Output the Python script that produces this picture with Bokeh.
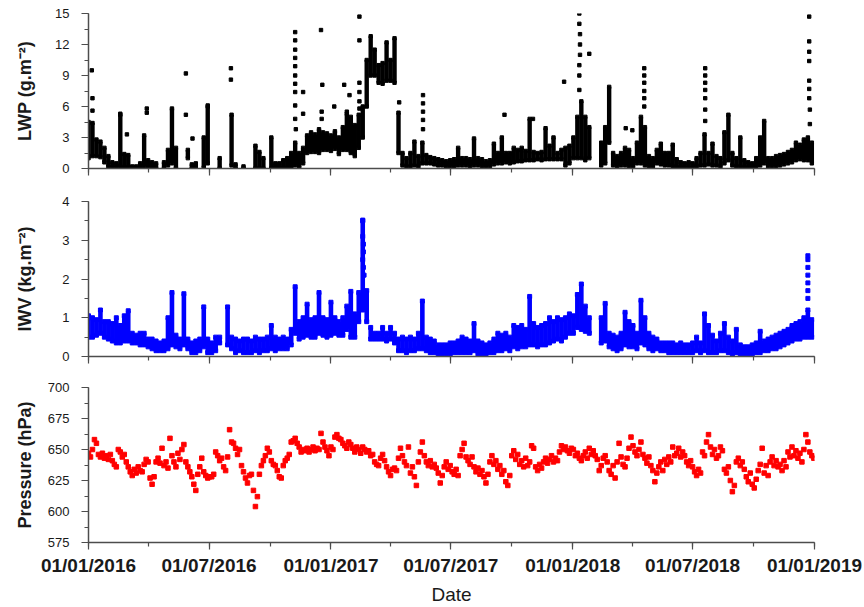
import numpy as np
import pandas as pd
from bokeh.plotting import figure
from bokeh.layouts import column
from bokeh.models import Range1d, FixedTicker, DatetimeTickFormatter
from bokeh.embed import file_html
from bokeh.resources import INLINE

nan = float("nan")
t0 = pd.Timestamp("2016-01-01")

# ---------------- data ----------------
# LWP / IWV: range of values in 6-day steps (day offsets from 01/01/2016)
band_day = list(range(0, 1093, 6))

lwp_lo = [1.0, 1.2, 1.2, 1.1, 0.6, 0.2, 0.1, 0.1, 0.2, 0.1,
          0.1, 0.0, 0.0, 0.0, 0.2, 0.1, 0.0, 0.0, nan, 0.0,
          0.3, 0.5, 0.0, nan, nan, 1.0, 0.0, 0.0, nan, 0.1,
          0.5, nan, nan, 0.0, nan, nan, 0.3, 0.0, nan, 0.0,
          nan, nan, 0.0, 0.0, 0.0, nan, 0.0, 0.1, 0.1, 0.0,
          0.0, 0.0, 0.3, 0.1, 0.5, 1.5, 1.6, 1.6, 1.5, 1.8,
          1.8, 1.7, 1.9, 1.4, 1.8, 1.8, 1.5, 1.2, 2.0, 3.0,
          6.0, 9.0, 9.0, 8.3, 8.2, 8.5, 8.5, 8.3, 1.5, 0.3,
          0.2, 0.2, 0.3, 0.2, 0.5, 0.5, 0.5, 0.4, 0.3, 0.3,
          0.2, 0.2, 0.2, 0.3, 0.3, 0.3, 0.2, 0.3, 0.3, 0.2,
          0.1, 0.2, 0.4, 0.5, 0.5, 0.6, 0.5, 0.6, 0.7, 0.7,
          0.8, 0.8, 0.8, 0.9, 0.8, 0.9, 0.9, 0.9, 0.9, 0.9,
          0.3, 0.5, 1.0, 1.0, 1.0, 0.8, 1.0, nan, nan, 0.3,
          0.5, 2.5, 0.3, 0.2, 0.3, 0.3, 0.2, 0.1, 0.5, 0.5,
          0.3, 0.2, 0.1, 0.5, 0.4, 0.3, 0.3, 0.2, 0.1, 0.1,
          0.1, 0.1, 0.1, 0.2, 0.3, 0.3, 0.4, 0.3, 0.3, 0.2,
          0.5, 0.8, 0.3, 0.2, 0.2, 0.1, 0.1, 0.1, 0.2, 0.3,
          0.5, 0.2, 0.2, 0.2, 0.3, 0.4, 0.5, 0.6, 0.8, 0.9,
          0.8, 0.8, 0.5]
lwp_hi = [4.5, 4.4, 2.8, 2.6, 2.0, 1.2, 0.6, 0.5, 5.2, 1.4,
          1.3, 0.2, 0.2, 0.5, 3.2, 0.8, 0.6, 0.5, nan, 0.6,
          1.8, 5.8, 2.0, nan, nan, 1.8, 0.4, 0.5, nan, 3.0,
          6.0, nan, nan, 1.0, nan, nan, 5.2, 0.4, nan, 0.2,
          nan, nan, 2.2, 1.6, 1.0, nan, 3.0, 0.5, 0.5, 0.8,
          1.0, 1.5, 2.5, 1.5, 2.0, 3.2, 3.5, 3.3, 3.8, 3.5,
          3.4, 3.2, 3.6, 3.0, 4.0, 5.3, 5.0, 4.2, 5.2, 6.0,
          10.5, 12.8, 11.5, 10.0, 10.2, 12.2, 10.5, 12.6, 5.4, 1.5,
          1.0, 1.5, 2.6, 1.2, 2.5, 1.3, 1.1, 1.0, 0.9, 0.8,
          0.7, 0.8, 0.9, 2.0, 1.0, 1.0, 0.9, 2.9, 1.0, 0.9,
          0.7, 0.8, 2.4, 1.5, 3.0, 1.5, 1.5, 2.0, 1.8, 2.0,
          1.7, 4.8, 1.6, 1.5, 1.6, 3.9, 2.2, 3.0, 1.5, 1.8,
          2.0, 2.2, 3.0, 5.0, 6.5, 5.0, 4.0, nan, nan, 2.5,
          4.0, 7.9, 1.5, 1.2, 1.5, 2.0, 1.8, 1.0, 2.5, 5.0,
          4.0, 1.2, 1.0, 1.8, 2.4, 1.5, 1.5, 2.3, 0.9, 0.6,
          0.5, 0.6, 0.5, 1.0, 1.5, 3.3, 1.5, 2.4, 1.2, 1.0,
          3.5, 5.2, 1.5, 1.0, 3.0, 0.8, 0.6, 0.5, 1.0, 3.0,
          4.6, 1.0, 1.0, 1.2, 1.3, 1.4, 1.6, 1.8, 2.5, 2.3,
          2.8, 3.0, 2.5]

lwp_spike_day = [5, 6, 6, 48, 58, 88, 88, 147, 147, 157, 180, 215, 215,
                 312, 312, 312, 312, 312, 312, 312, 312, 312, 312, 313,
                 324, 324, 351, 353, 352, 352, 371, 386, 394, 390,
                 409, 409, 409, 409, 409, 409, 469, 505, 505, 505, 505, 505,
                 628, 671, 718, 741, 741, 742, 742, 742, 741, 741, 741, 756,
                 811, 821, 839, 839, 839, 839, 839, 839,
                 931, 931, 931, 931, 931, 931, 931,
                 1088, 1088, 1088, 1088, 1088, 1088, 1088, 1089, 1089]
lwp_spike_val = [9.5, 6.8, 5.6, 5.3, 3.3, 5.8, 5.4, 9.2, 5.2, 2.9, 6.1, 9.7, 8.6,
                 13.2, 12.4, 11.5, 10.7, 9.9, 9.0, 8.2, 7.4, 6.1, 4.8, 3.8,
                 7.4, 5.3, 13.4, 8.1, 5.5, 4.8, 6.0, 8.1, 7.1, 5.5,
                 14.7, 12.4, 8.3, 7.4, 6.5, 5.8, 6.4, 7.1, 6.3, 5.5, 4.7, 3.8,
                 5.2, 4.8, 8.4, 15.0, 14.0, 13.0, 12.0, 11.0, 10.0, 9.0, 7.6, 11.1,
                 3.9, 3.7, 9.7, 9.0, 8.3, 7.5, 6.8, 6.0,
                 9.7, 9.0, 8.3, 7.6, 6.8, 5.7, 4.6,
                 14.7, 12.3, 11.3, 10.4, 8.5, 7.7, 6.8, 5.7, 4.3]

iwv_lo = [0.5, 0.5, 0.55, 0.6, 0.5, 0.45, 0.4, 0.35, 0.35, 0.4,
          0.4, 0.35, 0.35, 0.3, 0.3, 0.25, 0.2, 0.15, 0.15, 0.15,
          0.2, 0.3, 0.25, 0.2, 0.3, 0.2, 0.1, 0.1, 0.15, 0.25,
          0.1, 0.1, 0.15, 0.35, nan, 0.3, 0.2, 0.1, 0.15, 0.1,
          0.1, 0.1, 0.15, 0.1, 0.15, 0.15, 0.2, 0.15, 0.2, 0.2,
          0.2, 0.3, 0.6, 0.45, 0.5, 0.55, 0.5, 0.5, 0.6, 0.55,
          0.5, 0.55, 0.6, 0.55, 0.55, 0.7, 0.5, 0.5, 0.9, 1.2,
          0.9, 0.45, 0.45, 0.45, 0.45, 0.4, 0.45, 0.35, 0.15, 0.15,
          0.1, 0.15, 0.15, 0.2, 0.2, 0.15, 0.1, 0.1, 0.05, 0.05,
          0.05, 0.05, 0.1, 0.1, 0.1, 0.1, 0.1, 0.15, 0.05, 0.05,
          0.05, 0.1, 0.1, 0.15, 0.15, 0.2, 0.15, 0.25, 0.2, 0.25,
          0.25, 0.3, 0.3, 0.25, 0.3, 0.3, 0.35, 0.4, 0.45, 0.4,
          0.5, 0.6, 0.6, 0.75, 0.7, 0.65, 0.6, nan, nan, 0.35,
          0.4, 0.25, 0.2, 0.15, 0.2, 0.3, 0.25, 0.25, 0.2, 0.35,
          0.3, 0.2, 0.15, 0.2, 0.15, 0.15, 0.1, 0.1, 0.1, 0.1,
          0.1, 0.1, 0.1, 0.15, 0.1, 0.15, 0.1, 0.1, 0.1, 0.15,
          0.15, 0.1, 0.05, 0.1, 0.05, 0.05, 0.05, 0.05, 0.1, 0.1,
          0.15, 0.15, 0.2, 0.2, 0.25, 0.3, 0.35, 0.4, 0.45, 0.45,
          0.5, 0.5, 0.5]
iwv_hi = [1.05, 1.0, 0.95, 1.2, 0.9, 0.9, 0.85, 1.0, 0.8, 1.05,
          1.18, 0.6, 0.55, 0.6, 0.6, 0.45, 0.45, 0.4, 0.35, 0.4,
          1.0, 1.65, 0.55, 0.45, 1.62, 0.45, 0.35, 0.4, 0.45, 1.28,
          0.45, 0.35, 0.5, 0.5, nan, 1.28, 0.5, 0.45, 0.4, 0.45,
          0.45, 0.4, 0.5, 0.45, 0.45, 0.5, 0.8, 0.5, 0.45, 0.5,
          0.45, 0.7, 1.8, 0.9, 1.0, 1.35, 0.95, 1.0, 1.65, 1.0,
          0.95, 1.4, 1.0, 0.9, 1.0, 1.3, 1.68, 1.1, 1.65, 3.5,
          1.7, 0.75, 0.6, 0.6, 0.75, 0.6, 0.75, 0.6, 0.45, 0.5,
          0.45, 0.5, 0.45, 0.6, 1.43, 0.5, 0.45, 0.4, 0.3, 0.3,
          0.3, 0.35, 0.35, 0.4, 0.5, 0.45, 0.4, 0.85, 0.4, 0.35,
          0.3, 0.35, 0.45, 0.6, 0.55, 0.6, 0.5, 0.8, 0.75, 0.8,
          0.7, 1.55, 0.85, 0.75, 0.8, 0.85, 1.0, 0.9, 1.0, 0.95,
          1.0, 1.1, 1.05, 1.6, 1.87, 1.3, 1.0, nan, nan, 1.0,
          1.37, 0.6, 0.55, 0.5, 0.6, 1.14, 0.9, 0.8, 0.6, 1.45,
          1.0, 0.6, 0.5, 0.45, 0.35, 0.35, 0.35, 0.35, 0.3, 0.35,
          0.3, 0.3, 0.35, 0.5, 0.35, 1.1, 0.8, 0.55, 0.4, 0.6,
          0.85, 0.5, 0.4, 0.7, 0.3, 0.25, 0.25, 0.3, 0.35, 0.65,
          0.4, 0.45, 0.5, 0.55, 0.6, 0.65, 0.7, 0.8, 0.85, 0.9,
          1.0, 1.2, 0.95]

iwv_spike_day = [414, 414, 415, 415, 414, 415, 416, 1086, 1086, 1086, 1086, 1086, 1086, 1086]
iwv_spike_val = [3.52, 3.1, 2.9, 2.7, 2.5, 2.3, 2.1, 2.6, 2.5, 2.3, 2.1, 1.9, 1.7, 1.5]

# Pressure: one value every 3 days
pres_day = list(range(0, 1096, 3))
pres = [647, 644, 650, 658, 655, 646, 644, 647, 643, 645,
        642, 646, 641, 638, 636, 650, 648, 644, 646, 640,
        636, 632, 629, 634, 631, 636, 633, 632, 638, 642,
        640, 627, 622, 628, 640, 643, 639, 651, 637, 640,
        635, 659, 645, 640, 636, 647, 642, 650, 654, 640,
        636, 632, 628, 622, 617, 630, 636, 643, 632, 629,
        627, 628, 628, 630, 648, 645, 641, 643, 636, 633,
        644, 666, 656, 655, 651, 646, 650, 637, 632, 627,
        623, 629, 630, 617, 604, 612, 630, 637, 641, 645,
        651, 648, 641, 638, 637, 633, 628, 627, 637, 641,
        643, 646, 656, 657, 659, 655, 652, 648, 650, 649,
        651, 648, 650, 652, 649, 651, 650, 663, 656, 652,
        649, 645, 652, 650, 660, 662, 659, 658, 655, 653,
        651, 656, 654, 651, 648, 652, 650, 647, 652, 650,
        648, 649, 645, 646, 640, 638, 637, 643, 646, 641,
        636, 632, 629, 634, 635, 633, 643, 651, 645, 640,
        637, 652, 631, 636, 628, 621, 640, 648, 656, 645,
        640, 637, 641, 636, 638, 635, 631, 623, 629, 636,
        640, 634, 637, 632, 630, 634, 629, 645, 650, 655,
        644, 641, 638, 644, 636, 632, 635, 630, 633, 628,
        623, 630, 640, 645, 638, 641, 634, 637, 630, 633,
        624, 621, 629, 645, 649, 642, 646, 638, 641, 636,
        643, 637, 640, 653, 651, 636, 633, 638, 635, 640,
        643, 639, 642, 645, 640, 643, 641, 648, 653, 650,
        652, 649, 647, 651, 650, 645, 647, 643, 641, 645,
        648, 643, 651, 646, 649, 645, 642, 633, 637, 643,
        645, 640, 633, 630, 637, 627, 640, 655, 644, 638,
        636, 643, 651, 660, 653, 648, 645, 650, 656, 646,
        643, 639, 644, 637, 633, 624, 631, 636, 640, 633,
        642, 638, 644, 640, 652, 645, 647, 651, 644, 648,
        645, 640, 637, 641, 636, 632, 629, 634, 631, 648,
        645, 656, 662, 652, 646, 650, 643, 645, 652, 649,
        634, 631, 636, 625, 616, 621, 640, 643, 637, 640,
        634, 628, 624, 631, 622, 619, 626, 633, 638, 651,
        631, 637, 629, 640, 644, 637, 641, 636, 638, 633,
        641, 636, 648, 644, 652, 645, 649, 643, 647, 640,
        650, 662, 656, 648, 645, 643]

x_tick_dates = ["2016-01-01", "2016-07-01", "2017-01-01", "2017-07-01",
                "2018-01-01", "2018-07-01", "2019-01-01"]
x_minor_dates = ["2016-04-01", "2016-10-01", "2017-04-01", "2017-10-01",
                 "2018-04-01", "2018-10-01"]

# ---------------- helpers ----------------
def to_dt(days):
    return [t0 + pd.Timedelta(days=float(d)) for d in days]

def ms(s):
    return pd.Timestamp(s).value // 10**6

FONT = "Liberation Sans"
AXIS_COL = "#4d4d4d"
TXT_COL = "#1a1a1a"

xr = Range1d(start=t0, end=pd.Timestamp("2019-01-01"))
xticker = FixedTicker(ticks=[ms(s) for s in x_tick_dates],
                      minor_ticks=[ms(s) for s in x_tick_dates + x_minor_dates])
fmt = "%d/%m/%Y"
xfmt = DatetimeTickFormatter(microseconds=fmt, milliseconds=fmt, seconds=fmt, minsec=fmt,
                             minutes=fmt, hourmin=fmt, hours=fmt, days=fmt,
                             months=fmt, years=fmt)


def make_panel(top, bottom, yrange, yticks, yminor, ylabel, ylabel_standoff, last):
    p = figure(x_range=xr, y_range=Range1d(*yrange), x_axis_type="datetime",
               frame_width=726, frame_height=155,
               min_border_left=88, min_border_right=48,
               min_border_top=top, min_border_bottom=bottom,
               toolbar_location=None, output_backend="svg")
    p.outline_line_color = None
    p.xgrid.visible = False
    p.ygrid.visible = False
    p.background_fill_color = "white"
    p.border_fill_color = "white"

    ax = p.xaxis[0]
    ax.ticker = xticker
    ax.formatter = xfmt
    ax.axis_line_color = AXIS_COL
    ax.axis_line_width = 1.5
    ax.major_tick_line_color = AXIS_COL
    ax.minor_tick_line_color = AXIS_COL
    ax.major_tick_line_width = 1.2
    ax.minor_tick_line_width = 1.2
    ax.major_tick_in = 0
    ax.major_tick_out = 7
    ax.minor_tick_in = 0
    ax.minor_tick_out = 4
    if last:
        ax.major_label_text_font = FONT
        ax.major_label_text_font_size = "19px"
        ax.major_label_text_font_style = "bold"
        ax.major_label_text_color = TXT_COL
        ax.major_label_standoff = 5
        ax.axis_label = "Date"
        ax.axis_label_text_font = FONT
        ax.axis_label_text_font_size = "19px"
        ax.axis_label_text_font_style = "normal"
        ax.axis_label_text_color = TXT_COL
        ax.axis_label_standoff = 5
    else:
        # ticks only: labels not drawn
        ax.major_label_text_font_size = "1px"
        ax.major_label_text_color = None
        ax.major_label_standoff = 0

    ay = p.yaxis[0]
    ay.ticker = FixedTicker(ticks=yticks, minor_ticks=yminor)
    ay.axis_line_color = AXIS_COL
    ay.axis_line_width = 1.5
    ay.major_tick_line_color = AXIS_COL
    ay.minor_tick_line_color = AXIS_COL
    ay.major_tick_line_width = 1.2
    ay.minor_tick_line_width = 1.2
    ay.major_tick_in = 0
    ay.major_tick_out = 7
    ay.minor_tick_in = 0
    ay.minor_tick_out = 4
    ay.major_label_text_font = FONT
    ay.major_label_text_font_size = "13px"
    ay.major_label_text_color = TXT_COL
    ay.major_label_standoff = 12
    ay.axis_label = ylabel
    ay.axis_label_text_font = FONT
    ay.axis_label_text_font_size = "18px"
    ay.axis_label_text_font_style = "bold"
    ay.axis_label_text_color = TXT_COL
    ay.axis_label_standoff = ylabel_standoff
    return p


# ---------------- LWP ----------------
p1 = make_panel(13, 16, (0, 15), [0, 3, 6, 9, 12, 15],
                [0, 1.5, 3, 4.5, 6, 7.5, 9, 10.5, 12, 13.5, 15],
                "LWP (g.m\u207b\u00b2)", 17, False)
bx = to_dt(band_day)
p1.segment(x0=bx, y0=lwp_lo, x1=bx, y1=lwp_hi, line_color="black", line_width=4.4)
p1.scatter(x=bx, y=lwp_lo, marker="square", size=3.4, color="black")
p1.scatter(x=bx, y=lwp_hi, marker="square", size=3.4, color="black")
p1.scatter(x=to_dt(lwp_spike_day), y=lwp_spike_val, marker="square", size=3.4, color="black")

# ---------------- IWV ----------------
p2 = make_panel(17, 15, (0, 4), [0, 1, 2, 3, 4],
                [0, 0.5, 1, 1.5, 2, 2.5, 3, 3.5, 4],
                "IWV (kg.m\u207b\u00b2)", 24, False)
p2.segment(x0=bx, y0=iwv_lo, x1=bx, y1=iwv_hi, line_color="blue", line_width=4.6)
p2.scatter(x=bx, y=iwv_lo, marker="square", size=4.0, color="blue")
p2.scatter(x=bx, y=iwv_hi, marker="square", size=4.0, color="blue")
p2.scatter(x=to_dt(iwv_spike_day), y=iwv_spike_val, marker="square", size=4.0, color="blue")

# ---------------- Pressure ----------------
p3 = make_panel(16, 64, (575, 700), [575, 600, 625, 650, 675, 700],
                [575, 587.5, 600, 612.5, 625, 637.5, 650, 662.5, 675, 687.5, 700],
                "Pressure (hPa)", 10, True)
p3.scatter(x=to_dt(pres_day), y=pres, marker="square", size=4.5, color="red")

layout = column(p1, p2, p3, spacing=0)
open("out.html", "w").write(file_html(layout, INLINE))
